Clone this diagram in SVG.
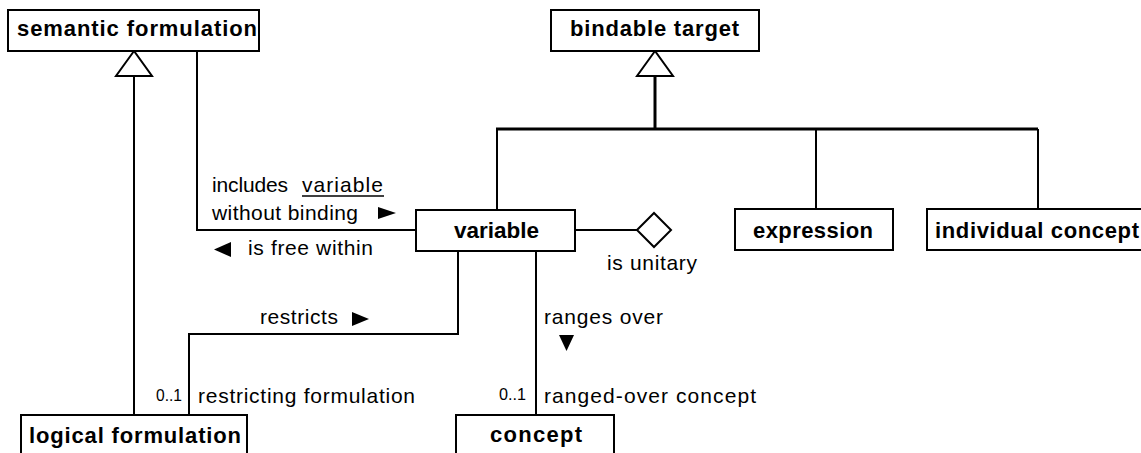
<svg xmlns="http://www.w3.org/2000/svg" width="1141" height="453" viewBox="0 0 1141 453">
<style>
.box{fill:#fff;stroke:#000;stroke-width:2}
.nt{font-family:"Liberation Sans",Arial,sans-serif;font-weight:bold;font-size:22px;fill:#000}
.lb{font-family:"Liberation Sans",Arial,sans-serif;font-size:21px;fill:#000}
.sm{font-family:"Liberation Sans",Arial,sans-serif;font-size:17px;fill:#000}
.ln{fill:none;stroke:#000;stroke-width:2}
.tk{fill:none;stroke:#000;stroke-width:3}
.gen{fill:#fff;stroke:#000;stroke-width:2}
.dir{fill:#000;stroke:none}
</style>
<rect width="1141" height="453" fill="#fff"/>
<g id="connectors">
  <polyline class="ln" points="134,76 134,415"/>
  <polygon class="gen" points="134,51 116,76 152,76"/>
  <polyline class="ln" points="197,51 197,230 416,230"/>
  <polyline class="tk" points="655,76 655,129"/>
  <polygon class="gen" points="655,51 637,76 673,76"/>
  <polyline class="tk" points="496,129 1038,129"/>
  <polyline class="ln" points="497,129 497,210"/>
  <polyline class="ln" points="816,129 816,209"/>
  <polyline class="ln" points="1038,129 1038,209"/>
  <polyline class="ln" points="575,230 637,230"/>
  <polygon class="gen" points="637,230 654,213 671,230 654,247"/>
  <polyline class="ln" points="458,251 458,334 189,334 189,415"/>
  <polyline class="ln" points="536,251 536,415"/>
  <text class="lb" x="212" y="192" textLength="76" lengthAdjust="spacing">includes</text>
  <text class="lb" x="302" y="192" textLength="81" lengthAdjust="spacing">variable</text>
  <line x1="302" y1="196" x2="384" y2="196" stroke="#000" stroke-width="1.5"/>
  <text class="lb" x="212" y="220" textLength="146" lengthAdjust="spacing">without binding</text>
  <polygon class="dir" points="378,207 396,213 378,219"/>
  <polygon class="dir" points="231,242 214,249.5 231,257"/>
  <text class="lb" x="248" y="255" textLength="125" lengthAdjust="spacing">is free within</text>
  <text class="lb" x="607" y="270" textLength="90" lengthAdjust="spacing">is unitary</text>
  <text class="lb" x="260" y="324" textLength="78" lengthAdjust="spacing">restricts</text>
  <polygon class="dir" points="352,312 369,319 352,326"/>
  <text class="sm" x="156" y="401" textLength="26" lengthAdjust="spacingAndGlyphs">0..1</text>
  <text class="lb" x="198" y="403" textLength="217" lengthAdjust="spacing">restricting formulation</text>
  <text class="lb" x="544" y="324" textLength="119" lengthAdjust="spacing">ranges over</text>
  <polygon class="dir" points="559,335 574,335 566.5,351"/>
  <text class="sm" x="499" y="400" textLength="27" lengthAdjust="spacingAndGlyphs">0..1</text>
  <text class="lb" x="544" y="403" textLength="212" lengthAdjust="spacing">ranged-over concept</text>
</g>
<g id="semantic-formulation">
  <rect class="box" x="8" y="10" width="251" height="41"/>
  <text class="nt" x="17" y="36" textLength="240" lengthAdjust="spacing">semantic formulation</text>
</g>
<g id="bindable-target">
  <rect class="box" x="551" y="10" width="208" height="41"/>
  <text class="nt" x="570" y="36" textLength="169" lengthAdjust="spacing">bindable target</text>
</g>
<g id="variable">
  <rect class="box" x="416" y="210" width="159" height="41"/>
  <text class="nt" x="454" y="238" textLength="85" lengthAdjust="spacingAndGlyphs">variable</text>
</g>
<g id="expression">
  <rect class="box" x="735" y="209" width="158" height="41"/>
  <text class="nt" x="753" y="238" textLength="120" lengthAdjust="spacing">expression</text>
</g>
<g id="individual-concept">
  <rect class="box" x="927" y="209" width="240" height="41"/>
  <text class="nt" x="935" y="238" textLength="204" lengthAdjust="spacing">individual concept</text>
</g>
<g id="logical-formulation">
  <rect class="box" x="21" y="415" width="226" height="60"/>
  <text class="nt" x="29" y="443" textLength="212" lengthAdjust="spacing">logical formulation</text>
</g>
<g id="concept">
  <rect class="box" x="456" y="415" width="158" height="60"/>
  <text class="nt" x="490" y="442" textLength="92" lengthAdjust="spacing">concept</text>
</g>
</svg>
